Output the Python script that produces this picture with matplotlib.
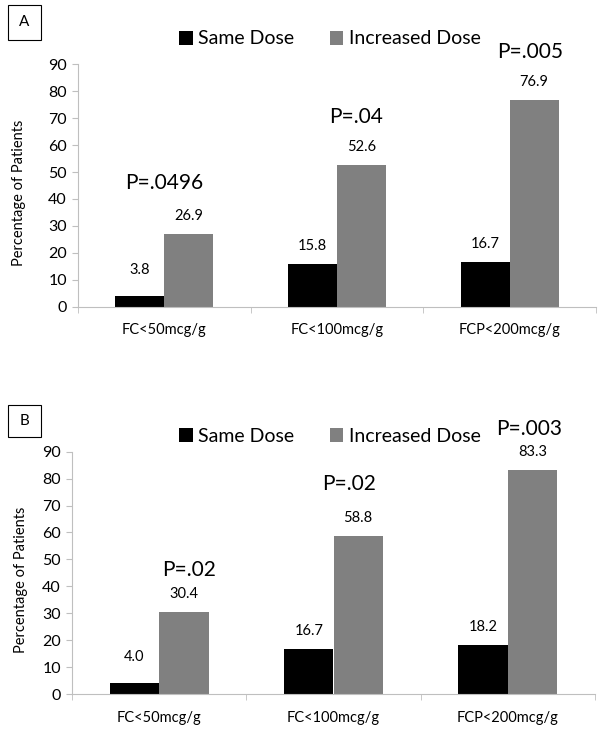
import matplotlib.pyplot as plt
import matplotlib.patches as mpatches
import numpy as np

plt.rcParams['font.family'] = ['Lato', 'DejaVu Sans']

categories = ['FC<50mcg/g', 'FC<100mcg/g', 'FCP<200mcg/g']
series_names = ['Same Dose', 'Increased Dose']

# panel A
same_a = [3.8, 15.8, 16.7]
incr_a = [26.9, 52.6, 76.9]
pvals_a = ['P=.0496', 'P=.04', 'P=.005']
# panel B
same_b = [4.0, 16.7, 18.2]
incr_b = [30.4, 58.8, 83.3]
pvals_b = ['P=.02', 'P=.02', 'P=.003']

# where the p-value text sits (x in category units, y in data units)
pval_pos_a = [(0.0, 46), (1.11, 70.5), (2.12, 94.6)]
pval_pos_b = [(0.17, 46), (1.09, 78), (2.12, 98.4)]

colors = ['#000000', '#808080']
axis_col = '#bfbfbf'
W = 604
H = 730

fig = plt.figure(figsize=(W / 100, H / 100), dpi=100)


def panel(rect, same, incr, pvals, ppos, letter, boxpx, legend_y, ylab_x):
    ax = fig.add_axes(rect)
    x = np.arange(len(categories))
    bw = 0.283
    ax.bar(x - bw / 2, same, bw, color=colors[0], label=series_names[0])
    ax.bar(x + bw / 2, incr, bw, color=colors[1], label=series_names[1])

    for xi, v in zip(x - bw / 2, same):
        off = 19 if v < 5 else 13
        ax.annotate(f'{v:.1f}', (xi, v), xytext=(0, off), textcoords='offset points',
                    ha='center', va='center', fontsize=10.5)
    for xi, v in zip(x + bw / 2, incr):
        ax.annotate(f'{v:.1f}', (xi, v), xytext=(0, 13), textcoords='offset points',
                    ha='center', va='center', fontsize=10.5)
    for (px, py), t in zip(ppos, pvals):
        ax.text(px, py, t, ha='center', va='center', fontsize=15, clip_on=False)

    ax.set_xlim(-0.5, 2.5)
    ax.set_ylim(0, 90)
    ax.set_yticks(range(0, 91, 10))
    ax.set_xticks(x)
    ax.set_xticklabels(categories, fontsize=10.5)
    ax.set_xticks([-0.5, 0.5, 1.5, 2.5], minor=True)
    ax.tick_params(axis='x', which='major', length=0, pad=12)
    ax.tick_params(axis='x', which='minor', length=4, color=axis_col)
    ax.tick_params(axis='y', labelsize=11.5, length=4, color=axis_col, pad=4)
    ax.set_ylabel('Percentage of Patients', fontsize=10.5)
    ax.yaxis.set_label_coords(ylab_x, 0.47)
    for s in ['top', 'right']:
        ax.spines[s].set_visible(False)
    for s in ['left', 'bottom']:
        ax.spines[s].set_color(axis_col)

    fig.legend(*ax.get_legend_handles_labels(), loc='center', ncol=2,
               bbox_to_anchor=(330 / W, 1 - legend_y / H), frameon=False,
               fontsize=14, handlelength=0.7, handleheight=0.7,
               handletextpad=0.3, columnspacing=1.8)

    x0, y0, x1, y1 = boxpx
    fig.patches.append(mpatches.Rectangle((x0 / W, 1 - y1 / H), (x1 - x0) / W, (y1 - y0) / H,
                                          transform=fig.transFigure, fill=False,
                                          edgecolor='#000000', linewidth=0.8))
    fig.text((x0 + x1) / 2 / W, 1 - (y0 + y1) / 2 / H, letter, ha='center', va='center',
             fontsize=11)
    return ax


panel([78 / W, 1 - 306.7 / H, 518 / W, 242.4 / H], same_a, incr_a, pvals_a,
      pval_pos_a, 'A', (8, 5, 41, 40), 39, -0.1)
panel([72 / W, 1 - 694 / H, 523 / W, 242.3 / H], same_b, incr_b, pvals_b,
      pval_pos_b, 'B', (8, 405, 41, 437), 436, -0.084)

fig.savefig('out.png', dpi=100)
